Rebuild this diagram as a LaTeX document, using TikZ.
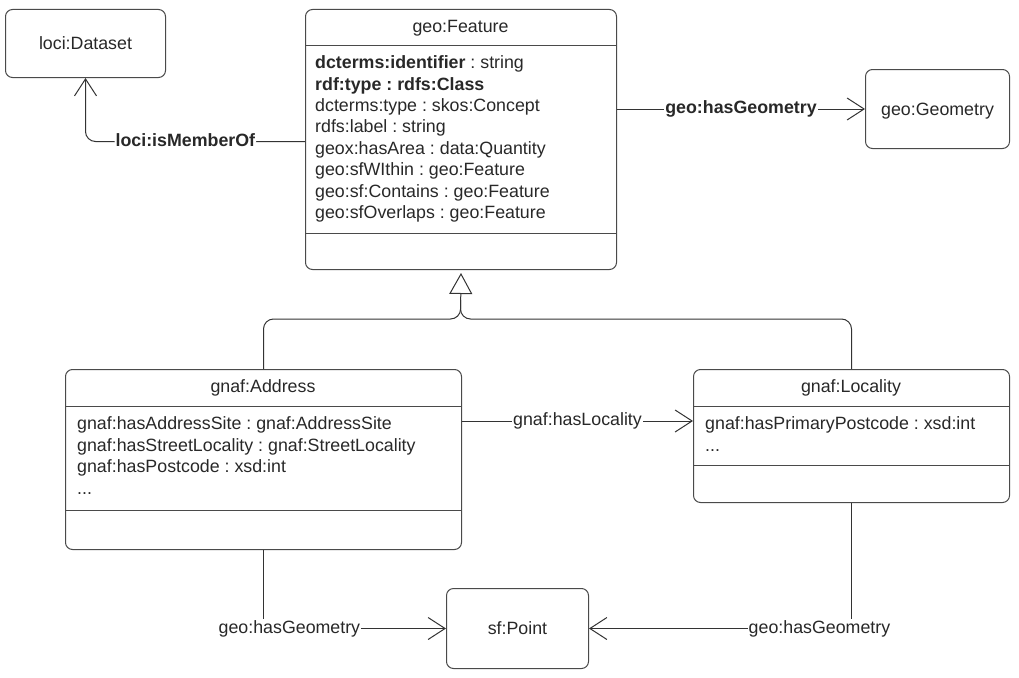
\documentclass[tikz,border=0pt]{standalone}
\usepackage{fontspec}
\setmainfont{Liberation Sans}
\usetikzlibrary{arrows.meta}
\definecolor{linec}{HTML}{333333}
\definecolor{boxc}{HTML}{4a4a4a}
\definecolor{txtc}{HTML}{282828}
\frenchspacing
\begin{document}
\begin{tikzpicture}[x=1pt,y=-1pt,
  every node/.style={text=txtc, font=\fontsize{17.8}{21}\selectfont},
  box/.style={draw=boxc, line width=1pt, rounded corners=7pt, inner sep=0, anchor=north west},
  simplebox/.style={box, text height=12.7pt, text depth=0pt},
  title/.style={anchor=base, inner sep=0},
  attr/.style={anchor=base west, inner sep=0},
  sep/.style={draw=boxc, line width=1pt},
  lab/.style={fill=white, inner sep=1pt, text height=12.7pt, text depth=3.5pt},
  conn/.style={draw=linec, line width=1pt},
  arr/.style={conn, -{Straight Barb[length=17pt,width=22pt,line width=1pt]}},
  gen/.style={conn, -{Triangle[open, fill=white, length=21pt, width=23pt, line width=1pt]}},
]
\useasboundingbox (0,0) rectangle (1019,677);

% simple boxes
\node[simplebox, minimum width=160pt, minimum height=68pt] (ds) at (5,9) {loci:Dataset};
\node[simplebox, minimum width=144pt, minimum height=79pt] (geom) at (865,69) {geo:Geometry};
\node[simplebox, minimum width=142pt, minimum height=80pt] (pt) at (446,588) {sf:Point};

% geo:Feature
\node[box, minimum width=311pt, minimum height=260pt] (feat) at (305,9) {};
\draw[sep] ([yshift=-37pt]feat.north west) -- ([yshift=-37pt]feat.north east);
\draw[sep] ([yshift=-224pt]feat.north west) -- ([yshift=-224pt]feat.north east);
\node[title] (featt) at (460.5,32.6) {geo:Feature};
\node[attr] (f1) at (315,68.7) {\textbf{dcterms:identifier} : string};
\node[attr] (f2) at (315,90.1) {\textbf{rdf:type : rdfs:Class}};
\node[attr] (f3) at (315,111.5) {dcterms:type : skos:Concept};
\node[attr] (f4) at (315,132.9) {rdfs:label : string};
\node[attr] (f5) at (315,154.3) {geox:hasArea : data:Quantity};
\node[attr] (f6) at (315,175.7) {geo:sfWIthin : geo:Feature};
\node[attr] (f7) at (315,197.1) {geo:sf:Contains : geo:Feature};
\node[attr] (f8) at (315,218.5) {geo:sfOverlaps : geo:Feature};

% gnaf:Address
\node[box, minimum width=396pt, minimum height=180pt] (addr) at (65,369) {};
\draw[sep] ([yshift=-37pt]addr.north west) -- ([yshift=-37pt]addr.north east);
\draw[sep] ([yshift=-141pt]addr.north west) -- ([yshift=-141pt]addr.north east);
\node[title] (addrt) at (263,392.2) {gnaf:Address};
\node[attr] (a1) at (77,429.6) {gnaf:hasAddressSite : gnaf:AddressSite};
\node[attr] (a2) at (77,451.1) {gnaf:hasStreetLocality : gnaf:StreetLocality};
\node[attr] (a3) at (77,472.6) {gnaf:hasPostcode : xsd:int};
\node[attr] (a4) at (77,494) {...};

% gnaf:Locality
\node[box, minimum width=316pt, minimum height=133pt] (loc) at (693,369) {};
\draw[sep] ([yshift=-37pt]loc.north west) -- ([yshift=-37pt]loc.north east);
\draw[sep] ([yshift=-96pt]loc.north west) -- ([yshift=-96pt]loc.north east);
\node[title] (loct) at (851,392.2) {gnaf:Locality};
\node[attr] (l1) at (705,429.6) {gnaf:hasPrimaryPostcode : xsd:int};
\node[attr] (l2) at (705,451.5) {...};

% connectors
\coordinate (memS) at ([yshift=-2pt]feat.west);
\draw[arr, rounded corners=10pt] (memS) -- node[lab, pos=0.545] (lmem) {\bfseries loci:isMemberOf} (ds.south |- memS) -- (ds.south);
\draw[arr] (geom.west -| feat.east) -- node[lab] (lgeo) {\bfseries geo:hasGeometry} (geom.west);
\draw[arr] ([yshift=-52pt]addr.north east) -- node[lab] (lloc) {gnaf:hasLocality} ([yshift=-52pt]loc.north west);

\coordinate (junc) at (460.5,319);
\coordinate (stub) at (460.5,300);
\draw[gen, rounded corners=10pt] (addr.north) |- (junc) -- ([yshift=-3pt]feat.south);
\draw[conn, rounded corners=10pt] (loc.north) |- (junc) -- (stub);

\draw[arr] (addr.south) |- node[lab, pos=0.571] (lag) {geo:hasGeometry} (pt.west);
\draw[arr] (loc.south) |- node[lab, pos=0.561] (llg) {geo:hasGeometry} (pt.east);
\end{tikzpicture}
\end{document}
